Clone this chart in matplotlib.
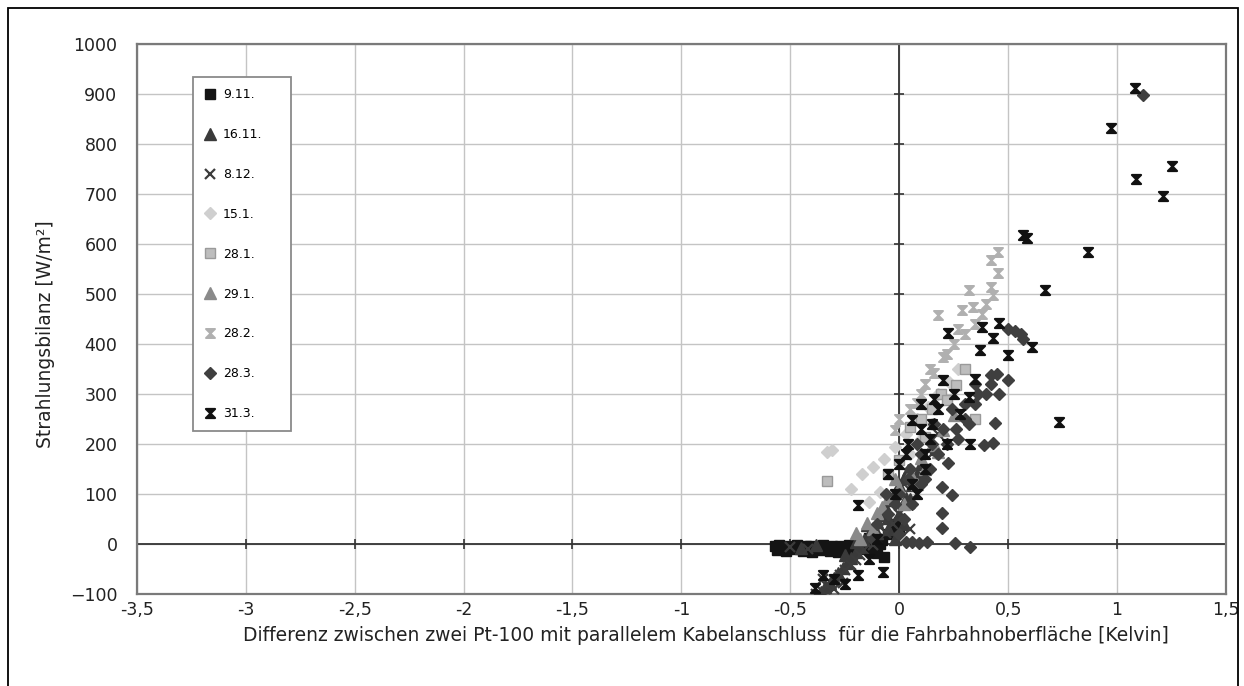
import matplotlib.pyplot as plt
from matplotlib.path import Path
from matplotlib.patches import Rectangle

plt.rcParams['font.family'] = ['DejaVu Sans']

x_ticks = [-3.5, -3.0, -2.5, -2.0, -1.5, -1.0, -0.5, 0.0, 0.5, 1.0, 1.5]
x_tick_labels = ['-3,5', '-3', '-2,5', '-2', '-1,5', '-1', '-0,5', '0', '0,5', '1', '1,5']
y_ticks = [-100, 0, 100, 200, 300, 400, 500, 600, 700, 800, 900, 1000]

# 9.11.
s0911_x = [-0.57, -0.55, -0.53, -0.51, -0.49, -0.47, -0.45, -0.43, -0.41, -0.39,
           -0.37, -0.35, -0.33, -0.31, -0.29, -0.27, -0.25, -0.23, -0.21, -0.19,
           -0.17, -0.15, -0.13, -0.11, -0.09, -0.56, -0.52, -0.48, -0.44, -0.40,
           -0.36, -0.32, -0.28, -0.24, -0.20, -0.16, -0.12, -0.08, -0.14, -0.10,
           -0.05, -0.02, 0.00, -0.07]
s0911_y = [-4, -2, -6, -3, -5, -2, -7, -4, -3, -8,
           -5, -2, -6, -4, -9, -3, -5, -2, -7, -4,
           -1, -6, 2, -3, 0, -12, -14, -10, -13, -15,
           -11, -14, -16, -12, -10, -9, -8, 8, 12, -18,
           20, 40, 30, -25]
# 16.11.
s1611_x = [-0.36, -0.34, -0.32, -0.30, -0.28, -0.26, -0.24, -0.22, -0.20, -0.18,
           -0.16, -0.14, -0.12, -0.10, -0.08, -0.06, -0.04, -0.02, 0.00, 0.02,
           0.04, -0.15, -0.10, -0.05, 0.03, 0.06, -0.25, -0.20, -0.45, -0.38,
           -0.05, 0.00, 0.05, 0.08, 0.10, -0.02, 0.02]
s1611_y = [-95, -85, -78, -68, -58, -48, -38, -28, -15, -5,
           8, 20, 32, 45, 58, 72, 88, 102, 118, 132,
           148, 38, 22, 52, 92, 118, -22, 4, -8, -2,
           30, 60, 90, 140, 160, 10, 40]
# 8.12.
s0812_x = [-0.38, -0.36, -0.33, -0.30, -0.27, -0.25, -0.22, -0.20, -0.18, -0.30,
           -0.26, -0.35, -0.16, -0.12, -0.10, -0.06, -0.03, 0.00, 0.05, 0.08,
           0.10, 0.12, -0.42, -0.50, 0.02, 0.15, 0.18, -0.08, 0.05]
s0812_y = [-100, -92, -84, -72, -62, -52, -42, -32, -22, -90,
           -78, -70, -12, -2, 10, 22, 40, 60, 80, 100,
           128, 150, -10, -6, 120, 180, 220, 50, 30]
# 15.1.
s1501_x = [-0.33, -0.31, -0.22, -0.17, -0.12, -0.07, -0.02, 0.03, 0.08, 0.13,
           0.18, 0.23, 0.27, -0.14, -0.09, 0.05, 0.10, 0.15]
s1501_y = [184, 188, 110, 140, 155, 170, 195, 220, 250, 275,
           300, 325, 350, 85, 105, 180, 210, 240]
# 28.1.
s2801_x = [-0.33, 0.30, 0.19, 0.05, 0.10, 0.15, 0.22, -0.05, 0.00, 0.26, 0.12, 0.35]
s2801_y = [126, 350, 300, 235, 250, 270, 288, 140, 168, 318, 215, 250]
# 29.1.
s2901_x = [-0.20, -0.15, -0.10, -0.05, 0.00, 0.05, 0.10, 0.15, 0.20, 0.25,
           -0.12, 0.02, 0.08, -0.18, -0.08, 0.12, 0.18, -0.02]
s2901_y = [22, 42, 62, 92, 112, 142, 172, 198, 228, 258,
           30, 80, 120, 10, 75, 150, 185, 130]
# 28.2.
s2802_x = [0.18, 0.32, 0.42, 0.455, 0.455, 0.42, 0.43, 0.29, 0.34, 0.20,
           0.16, 0.10, 0.05, 0.00, 0.12, 0.25, 0.30, 0.35, 0.38, 0.22,
           0.27, 0.08, -0.02, 0.14, 0.40]
s2802_y = [458, 508, 568, 584, 542, 514, 498, 468, 474, 374,
           342, 300, 270, 250, 320, 400, 420, 440, 460, 380,
           430, 282, 228, 350, 480]
# 28.3.
s2803_x = [1.12, 0.50, 0.53, 0.56, 0.57, 0.257, 0.326, 0.197, 0.197, 0.243,
           0.197, 0.128, 0.06, 0.43, 0.44, 0.50, 0.42, 0.39, 0.225, 0.35,
           0.30, 0.20, 0.15, 0.10, 0.05, 0.00, -0.05, -0.10, 0.09, 0.46,
           0.36, 0.27, 0.12, 0.32, 0.02, 0.06, 0.10, 0.14, 0.18, 0.22,
           0.26, 0.30, 0.40, 0.42, 0.45, 0.35, 0.24, 0.16, 0.08, 0.04,
           -0.02, -0.06, -0.12, 0.00, 0.03]
s2803_y = [898, 430, 425, 420, 410, 2, -6, 32, 62, 98,
           114, 4, 4, 202, 242, 328, 338, 198, 162, 280,
           250, 230, 200, 180, 150, 100, 60, 40, 2, 300,
           300, 210, 130, 240, 50, 80, 120, 150, 180, 200,
           230, 280, 300, 320, 340, 320, 270, 240, 200, 130,
           80, 100, 10, 20, 5]
# 31.3.
s3103_x = [1.083, 0.972, 1.252, 1.087, 1.211, 0.569, 0.587, 0.867, 0.670, 0.225,
           0.380, 0.460, 0.430, 0.370, 0.500, 0.610, 0.734, 0.326, -0.075, -0.19,
           0.20, 0.10, 0.06, 0.15, 0.00, -0.05, 0.12, 0.32, -0.35, -0.385,
           -0.19, 0.22, 0.08, -0.14, 0.04, 0.10, 0.18, 0.25, 0.12, 0.06,
           -0.02, 0.03, 0.14, -0.10, -0.25, -0.30, 0.16, 0.28, 0.35]
s3103_y = [912, 832, 756, 730, 696, 618, 612, 584, 508, 422,
           434, 442, 412, 388, 378, 394, 244, 200, -56, 78,
           328, 280, 248, 240, 160, 140, 180, 294, -62, -88,
           -62, 200, 100, -30, 200, 230, 270, 300, 150, 120,
           100, 180, 210, 10, -80, -70, 290, 260, 330]

# filled hourglass, Excel-like star marker
star = Path(
    [(-1, 1), (1, 1), (-1, -1), (1, -1), (-1, 1)],
    [Path.MOVETO, Path.LINETO, Path.LINETO, Path.LINETO, Path.CLOSEPOLY],
)

series = [
    ("9.11.", s0911_x, s0911_y, "s", "#141414", "#141414", 7, 1),
    ("16.11.", s1611_x, s1611_y, "^", "#3a3a3a", "#3a3a3a", 8, 1),
    ("8.12.", s0812_x, s0812_y, "x", "#3c3c3c", "#3c3c3c", 7, 1.6),
    ("15.1.", s1501_x, s1501_y, "D", "#cfcfcf", "#cfcfcf", 6.5, 1),
    ("28.1.", s2801_x, s2801_y, "s", "#bdbdbd", "#9a9a9a", 7.5, 1),
    ("29.1.", s2901_x, s2901_y, "^", "#8a8a8a", "#8a8a8a", 8, 1),
    ("28.2.", s2802_x, s2802_y, star, "#b0b0b0", "#b0b0b0", 6.5, 1.4),
    ("28.3.", s2803_x, s2803_y, "D", "#3f3f3f", "#3f3f3f", 6.5, 1),
    ("31.3.", s3103_x, s3103_y, star, "#111111", "#111111", 6.5, 1.6),
]

fig = plt.figure(figsize=(12.44, 6.86), dpi=100)
ax = fig.add_axes([0.110, 0.134, 0.8755, 0.802])

for label, xs, ys, marker, fc, ec, ms, mew in series:
    ax.plot(xs, ys, linestyle="none", marker=marker, markersize=ms,
            markerfacecolor=fc, markeredgecolor=ec, markeredgewidth=mew,
            label=label, zorder=3)

ax.set_xlim(-3.5, 1.5)
ax.set_ylim(-100, 1000)
ax.set_xticks(x_ticks)
ax.set_xticklabels(x_tick_labels)
ax.set_yticks(y_ticks)
ax.tick_params(length=0, labelsize=12.5, colors="#222222")
ax.tick_params(axis="y", pad=14)
ax.tick_params(axis="x", pad=5)
ax.grid(True, color="#c4c4c4", linewidth=1.0, zorder=0)
ax.set_axisbelow(True)
for sp in ax.spines.values():
    sp.set_color("#7a7a7a")
    sp.set_linewidth(1.6)

# axes crossing at zero, with their small tick marks
ax.axhline(0, color="#333333", linewidth=1.3, zorder=2)
ax.axvline(0, color="#333333", linewidth=1.3, zorder=2)
ax.plot([0] * len(y_ticks), y_ticks, linestyle="none", marker="_",
        markersize=7, color="#333333", markeredgewidth=1.2, zorder=2, clip_on=False)
ax.plot(x_ticks, [0] * len(x_ticks), linestyle="none", marker="|",
        markersize=7, color="#333333", markeredgewidth=1.2, zorder=2)

ax.set_xlabel("Differenz zwischen zwei Pt-100 mit parallelem Kabelanschluss  für die Fahrbahnoberfläche [Kelvin]",
              fontsize=13.5, color="#222222")
ax.xaxis.set_label_coords(0.5225, -0.0586)
ax.set_ylabel("Strahlungsbilanz [W/m²]", fontsize=13.5, color="#222222")
ax.yaxis.set_label_coords(-0.075, 0.473)

leg = ax.legend(loc="upper left", bbox_to_anchor=(0.0514, 0.296, 0.09, 0.644),
                mode="expand", borderaxespad=0,
                fontsize=9, labelspacing=2.15, handlelength=1.0, handletextpad=0.5,
                borderpad=0.9, fancybox=False, framealpha=1, edgecolor="#8a8a8a")
leg.get_frame().set_linewidth(1.3)

# outer frame of the picture
fig.patches.append(Rectangle((8 / 1244, -0.02), 1230 / 1244, 1 - 8 / 686 + 0.02,
                             transform=fig.transFigure, fill=False,
                             edgecolor="black", linewidth=1.3))

fig.savefig("out.png", dpi=100)
